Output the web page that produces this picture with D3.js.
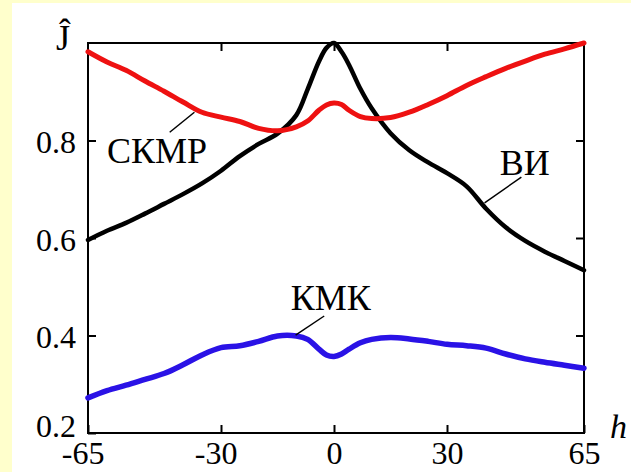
<!DOCTYPE html>
<html>
<head>
<meta charset="utf-8">
<script src="https://cdn.jsdelivr.net/npm/d3@7"></script>
<style>
  html, body { margin: 0; padding: 0; background: #ffffcc; }
  #chart { width: 631px; height: 472px; position: relative; }
  svg text { fill: #000; }
</style>
</head>
<body>
<div id="chart"></div>
<script>
// h grid shared by the three curves
const hValues = [-65, -60, -55, -50, -45, -40, -35, -30, -25, -20, -15, -10, -7, -4, -2, 0,
                 2, 4, 7, 10, 15, 20, 25, 30, 35, 40, 45, 50, 55, 60, 65];

// ВИ (black)
const viValues = [0.596, 0.615, 0.631, 0.650, 0.670, 0.690, 0.712, 0.738, 0.768, 0.793, 0.814,
                  0.852, 0.905, 0.962, 0.990, 1.000, 0.982, 0.955, 0.906, 0.866, 0.815, 0.780,
                  0.755, 0.733, 0.706, 0.660, 0.622, 0.594, 0.572, 0.553, 0.534];

// СКМР (red)
const skmrValues = [0.982, 0.961, 0.944, 0.922, 0.901, 0.879, 0.858, 0.848, 0.839, 0.825, 0.820,
                    0.828, 0.840, 0.862, 0.873, 0.877, 0.874, 0.862, 0.849, 0.845, 0.847, 0.858,
                    0.874, 0.892, 0.913, 0.931, 0.948, 0.963, 0.977, 0.988, 1.000];

// КМК (blue)
const kmkValues = [0.272, 0.287, 0.298, 0.310, 0.322, 0.340, 0.360, 0.375, 0.379, 0.388, 0.399,
                   0.399, 0.392, 0.372, 0.360, 0.357, 0.362, 0.372, 0.385, 0.392, 0.396, 0.393,
                   0.388, 0.382, 0.379, 0.374, 0.362, 0.352, 0.345, 0.339, 0.333];

const xTicks = [-65, -30, 0, 30, 65];
const yTicks = [0.2, 0.4, 0.6, 0.8];

// label name, text position [h, v], leader line [h1, v1, h2, v2]
const labels = [
    {name: "СКМР", at: [-60, 0.754], leader: [-43.5, 0.817, -37, 0.858]},
    {name: "ВИ",   at: [43.5, 0.729], leader: [39.6, 0.672, 49, 0.725]},
    {name: "КМК",  at: [-11.5, 0.452], leader: [-10.2, 0.401, -2.6, 0.44]}
];

const serif = "'Liberation Serif', 'Times New Roman', Times, Tinos, 'Nimbus Roman', 'FreeSerif', 'DejaVu Serif', 'Noto Serif', serif";

function renderChart(selector) {
    const W = 631, H = 472;
    const margin = {top: 43, right: 47, bottom: 39, left: 88};
    const width = W - margin.left - margin.right;
    const height = H - margin.top - margin.bottom;

    const root = d3.select(selector).append("svg")
        .attr("width", W)
        .attr("height", H)
        .style("font-family", serif);

    root.append("rect").attr("width", W).attr("height", H).attr("fill", "#ffffcc");
    root.append("rect").attr("x", 12).attr("y", 3).attr("width", W - 12).attr("height", H - 3)
        .attr("fill", "#ffffff");

    const svg = root.append("g")
        .attr("transform", `translate(${margin.left}, ${margin.top})`);

    // zero tick of the reference sits a little left of the middle
    const x = d3.scaleLinear().domain([-65, -30, 0, 30, 65]).range([0, 133, 246, 359, width]);
    const y = d3.scaleLinear().domain([0.2, 1.0]).range([height, 0]);

    const fontSize = 32;

    // bottom axis, ticks pointing inward
    const xAxis = svg.append("g")
        .attr("transform", `translate(0, ${height})`)
        .call(d3.axisBottom(x).tickValues(xTicks).tickSize(-8).tickFormat(d3.format("d")));
    xAxis.attr("font-family", null);
    xAxis.select(".domain").remove();
    xAxis.selectAll("line").attr("stroke", "#000").attr("stroke-width", 2);
    xAxis.selectAll("text")
        .attr("y", 31)
        .attr("dy", 0)
        .attr("dx", d => d < 0 ? "-0.17em" : 0)
        .style("font-size", fontSize + "px")
        .text(d => d < 0 ? "-" + Math.abs(d) : d);

    // top axis
    const xTop = svg.append("g")
        .call(d3.axisTop(x).tickValues([-30, 0, 30]).tickSize(-8).tickFormat(""));
    xTop.select(".domain").remove();
    xTop.selectAll("line").attr("stroke", "#000").attr("stroke-width", 2);

    // left axis
    const yAxis = svg.append("g")
        .call(d3.axisLeft(y).tickValues(yTicks).tickSize(-8).tickPadding(12).tickFormat(d3.format(".1f")));
    yAxis.attr("font-family", null);
    yAxis.select(".domain").remove();
    yAxis.selectAll("line").attr("stroke", "#000").attr("stroke-width", 2);
    yAxis.selectAll("text")
        .attr("x", -12)
        .attr("dy", d => d === 0.2 ? 3 : 12)
        .style("font-size", fontSize + "px");

    // right axis
    const yRight = svg.append("g")
        .attr("transform", `translate(${width}, 0)`)
        .call(d3.axisRight(y).tickValues([0.4, 0.6, 0.8]).tickSize(-8).tickFormat(""));
    yRight.select(".domain").remove();
    yRight.selectAll("line").attr("stroke", "#000").attr("stroke-width", 2);

    // frame
    svg.append("rect")
        .attr("width", width)
        .attr("height", height)
        .attr("fill", "none")
        .attr("stroke", "#000")
        .attr("stroke-width", 2);

    const line = d3.line()
        .x(d => x(d[0]))
        .y(d => y(d[1]))
        .curve(d3.curveCatmullRom.alpha(0.5));

    const series = [
        {values: viValues, color: "#000000", w: 4.5},
        {values: skmrValues, color: "#ee1111", w: 5},
        {values: kmkValues, color: "#2a12e6", w: 5.5}
    ];

    series.forEach(s => {
        svg.append("path")
            .datum(hValues.map((h, i) => [h, s.values[i]]))
            .attr("fill", "none")
            .attr("stroke", s.color)
            .attr("stroke-width", s.w)
            .attr("stroke-linejoin", "round")
            .attr("stroke-linecap", "round")
            .attr("d", line);
    });

    // curve labels with leader lines
    labels.forEach(l => {
        svg.append("line")
            .attr("x1", x(l.leader[0])).attr("y1", y(l.leader[1]))
            .attr("x2", x(l.leader[2])).attr("y2", y(l.leader[3]))
            .attr("stroke", "#000")
            .attr("stroke-width", 1.5);
        svg.append("text")
            .attr("x", x(l.at[0]))
            .attr("y", y(l.at[1]))
            .style("font-size", "36px")
            .text(l.name);
    });

    // axis titles
    root.append("text")
        .attr("x", 56)
        .attr("y", 50)
        .style("font-size", "36px")
        .text("Ĵ");

    root.append("text")
        .attr("x", 610)
        .attr("y", 438)
        .style("font-size", "34px")
        .style("font-style", "italic")
        .text("h");
}

renderChart("#chart");
</script>
</body>
</html>
